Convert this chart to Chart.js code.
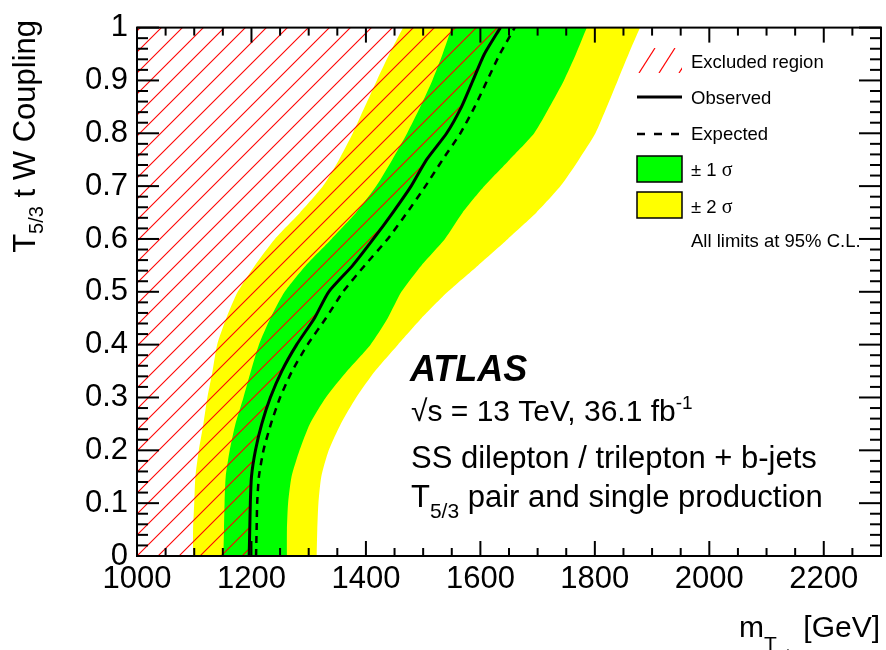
<!DOCTYPE html>
<html lang="en">
<head>
<meta charset="UTF-8">
<title>T5/3 tW coupling limits</title>
<script src="https://cdn.jsdelivr.net/npm/chart.js"></script>
<style>
  html, body { margin: 0; padding: 0; background: #fff; }
  #wrap { width: 886px; height: 650px; }
</style>
</head>
<body>
<div id="wrap"><canvas id="limitChart" width="886" height="650"></canvas></div>
<script>
// coupling values at which every curve was read
const couplings = [0, 0.05, 0.1, 0.15, 0.2, 0.25, 0.3, 0.35, 0.4, 0.45, 0.5,
                   0.55, 0.6, 0.65, 0.7, 0.75, 0.8, 0.85, 0.9, 0.95, 1];
// mass limits in GeV
const observed    = [1196, 1197, 1198, 1200, 1207, 1218, 1233, 1253, 1279, 1310, 1335, 1377, 1413, 1447, 1479, 1506, 1541, 1567, 1587, 1607, 1635];
const expected    = [1208, 1209, 1210, 1213, 1221, 1234, 1250, 1271, 1298, 1330, 1360, 1398, 1438, 1472, 1504, 1534, 1565, 1590, 1612, 1634, 1660];
const minus1sigma = [1151, 1152, 1153, 1155, 1162, 1172, 1186, 1199, 1213, 1233, 1258, 1295, 1340, 1383, 1418, 1446, 1472, 1495, 1516, 1534, 1550];
const plus1sigma  = [1262, 1262, 1264, 1270, 1284, 1302, 1330, 1367, 1408, 1438, 1462, 1497, 1538, 1569, 1607, 1651, 1694, 1721, 1746, 1767, 1786];
const minus2sigma = [1098, 1098, 1100, 1102, 1108, 1116, 1123, 1132, 1140, 1156, 1176, 1206, 1241, 1285, 1325, 1353, 1377, 1398, 1419, 1441, 1465];
const plus2sigma  = [1314, 1315, 1317, 1322, 1335, 1356, 1383, 1416, 1456, 1497, 1543, 1596, 1648, 1698, 1740, 1772, 1801, 1821, 1840, 1859, 1879];

const massTicks = [1000, 1200, 1400, 1600, 1800, 2000, 2200];
const couplingTicks = [0, 0.1, 0.2, 0.3, 0.4, 0.5, 0.6, 0.7, 0.8, 0.9, 1];

const FONT = '"Liberation Sans", Arial, Helvetica, sans-serif';
const font = (size, style) => (style || '') + ' ' + size + 'px ' + FONT;

const toPoints = xs => xs.map((x, i) => ({ x: x, y: couplings[i] }));

function makeHatch() {
    const c = document.createElement('canvas');
    const w = 21, h = 21;
    c.width = w; c.height = h;
    const g = c.getContext('2d');
    g.strokeStyle = '#ff0000';
    g.lineWidth = 1.1;
    for (let k = -1; k <= 1; k++) {
        g.beginPath();
        g.moveTo(-w + k * w, 2 * h);
        g.lineTo(2 * w + k * w, -h);
        g.stroke();
    }
    return g.createPattern(c, 'repeat');
}

function drawPieces(ctx, x, y, pieces) {
    // pieces: [text, size, baseline shift, style, family]
    let cx = x;
    pieces.forEach(p => {
        ctx.font = (p[3] || '') + ' ' + p[1] + 'px ' + (p[4] || FONT);
        ctx.fillText(p[0], cx, y + (p[2] || 0));
        cx += ctx.measureText(p[0]).width;
    });
    return cx;
}

function piecesWidth(ctx, pieces) {
    let w = 0;
    pieces.forEach(p => {
        ctx.font = (p[3] || '') + ' ' + p[1] + 'px ' + (p[4] || FONT);
        w += ctx.measureText(p[0]).width;
    });
    return w;
}

const rootFrame = {
    id: 'rootFrame',
    afterDraw(chart) {
        const { ctx, chartArea: a, scales: { x, y } } = chart;
        ctx.save();
        ctx.strokeStyle = '#000';
        ctx.lineWidth = 2;
        const seg = (x1, y1, x2, y2) => { ctx.beginPath(); ctx.moveTo(x1, y1); ctx.lineTo(x2, y2); ctx.stroke(); };

        // inward ticks on all four sides
        for (let v = 1000; v <= 2300; v += 50) {
            const px = x.getPixelForValue(v);
            const len = v % 200 === 0 ? 15 : 8;
            seg(px, a.bottom, px, a.bottom - len);
            seg(px, a.top, px, a.top + len);
        }
        for (let i = 0; i <= 50; i++) {
            const py = y.getPixelForValue(i / 50);
            const len = i % 5 === 0 ? 22 : 11;
            seg(a.left, py, a.left + len, py);
            seg(a.right, py, a.right - len, py);
        }
        ctx.strokeRect(a.left, a.top, a.right - a.left, a.bottom - a.top);

        ctx.fillStyle = '#000';
        ctx.textAlign = 'left';
        ctx.textBaseline = 'alphabetic';

        // axis titles
        ctx.font = font(30);
        ctx.textAlign = 'right';
        ctx.fillText('[GeV]', 880, 637);
        ctx.fillText('m', 764, 637);
        ctx.textAlign = 'left';
        ctx.font = font(21);
        ctx.fillText('T', 764, 651);
        ctx.font = font(14);
        ctx.fillText('5/3', 777, 660);

        const yTitle = [['T', 31], ['5/3', 20, 8], [' t W Coupling', 31]];
        const yw = piecesWidth(ctx, yTitle);
        ctx.save();
        ctx.translate(35, 0);
        ctx.rotate(-Math.PI / 2);
        drawPieces(ctx, -20 - yw, 0, yTitle);
        ctx.restore();

        // ATLAS label block
        ctx.font = font(36, 'italic bold');
        ctx.fillText('ATLAS', 410, 381);
        const endS = drawPieces(ctx, 411, 421, [['\u221As = 13 TeV, 36.1 fb', 30]]);
        drawPieces(ctx, endS, 421, [['-1', 19, -12]]);
        ctx.font = font(31);
        ctx.fillText('SS dilepton / trilepton + b-jets', 411, 468);
        drawPieces(ctx, 411, 507, [['T', 31], ['5/3', 21, 11], [' pair and single production', 31]]);

        // legend
        const lx = 637, lw = 45, tx = 691;
        ctx.save();
        ctx.beginPath();
        ctx.rect(lx, 48, lw, 25);
        ctx.clip();
        ctx.strokeStyle = '#ff0000';
        ctx.lineWidth = 1.2;
        for (let k = -1; k <= 2; k++) {
            seg(lx + 2 + 20 * k, 73, lx + 2 + 20 * k + 16, 48);
        }
        ctx.restore();

        ctx.lineWidth = 3;
        seg(lx, 97, lx + lw, 97);
        ctx.lineWidth = 2.5;
        ctx.setLineDash([8, 9]);
        seg(lx, 134, lx + lw, 134);
        ctx.setLineDash([]);

        ctx.lineWidth = 1.5;
        ctx.fillStyle = '#00ff00';
        ctx.fillRect(lx, 156, lw, 26);
        ctx.strokeRect(lx, 156, lw, 26);
        ctx.fillStyle = '#ffff00';
        ctx.fillRect(lx, 192, lw, 26);
        ctx.strokeRect(lx, 192, lw, 26);

        ctx.fillStyle = '#000';
        ctx.font = font(18.5);
        ctx.fillText('Excluded region', tx, 68);
        ctx.fillText('Observed', tx, 104);
        ctx.fillText('Expected', tx, 140);
        const serif = '"Liberation Serif", "DejaVu Serif", serif';
        drawPieces(ctx, tx, 176, [['\u00B1 1 ', 18.5], ['\u03C3', 20, 0, '', serif]]);
        drawPieces(ctx, tx, 213, [['\u00B1 2 ', 18.5], ['\u03C3', 20, 0, '', serif]]);
        ctx.font = font(18.5);
        ctx.fillText('All limits at 95% C.L.', tx, 247);
        ctx.restore();
    }
};

const canvas = document.getElementById('limitChart');
const hatch = makeHatch();
const clear = 'rgba(0,0,0,0)';

new Chart(canvas.getContext('2d'), {
    type: 'line',
    data: {
        datasets: [
            { label: 'Observed', data: toPoints(observed), borderColor: '#000', borderWidth: 3,
              backgroundColor: hatch, fill: { value: 1000 }, tension: 0.2 },
            { label: 'Expected', data: toPoints(expected), borderColor: '#000', borderWidth: 2.5,
              borderDash: [7, 6], fill: false, tension: 0.2 },
            { label: '-1 sigma', data: toPoints(minus1sigma), borderColor: clear, borderWidth: 1,
              backgroundColor: '#00ff00', fill: 3, tension: 0.2 },
            { label: '+1 sigma', data: toPoints(plus1sigma), borderColor: clear, borderWidth: 1,
              fill: false, tension: 0.2 },
            { label: '-2 sigma', data: toPoints(minus2sigma), borderColor: clear, borderWidth: 1,
              backgroundColor: '#ffff00', fill: 5, tension: 0.2 },
            { label: '+2 sigma', data: toPoints(plus2sigma), borderColor: clear, borderWidth: 1,
              fill: false, tension: 0.2 }
        ]
    },
    options: {
        indexAxis: 'y',
        responsive: false,
        animation: false,
        elements: { point: { radius: 0 } },
        layout: { padding: { top: 22, right: 5, left: 0, bottom: 0 } },
        plugins: { legend: { display: false }, tooltip: { enabled: false } },
        scales: {
            x: {
                type: 'linear', min: 1000, max: 2300,
                afterBuildTicks: s => { s.ticks = massTicks.map(v => ({ value: v })); },
                afterFit: s => { s.height = 94; },
                grid: { display: false, drawTicks: false },
                border: { display: false },
                ticks: { font: { family: FONT, size: 31 }, color: '#000', padding: 5,
                         maxRotation: 0, autoSkip: false, callback: v => String(v) }
            },
            y: {
                type: 'linear', min: 0, max: 1,
                afterBuildTicks: s => { s.ticks = couplingTicks.map(v => ({ value: v })); },
                afterFit: s => { s.width = 137; },
                grid: { display: false, drawTicks: false },
                border: { display: false },
                ticks: { font: { family: FONT, size: 31 }, color: '#000', padding: 9,
                         autoSkip: false, callback: v => String(v) }
            }
        }
    },
    plugins: [rootFrame]
});
</script>
</body>
</html>
